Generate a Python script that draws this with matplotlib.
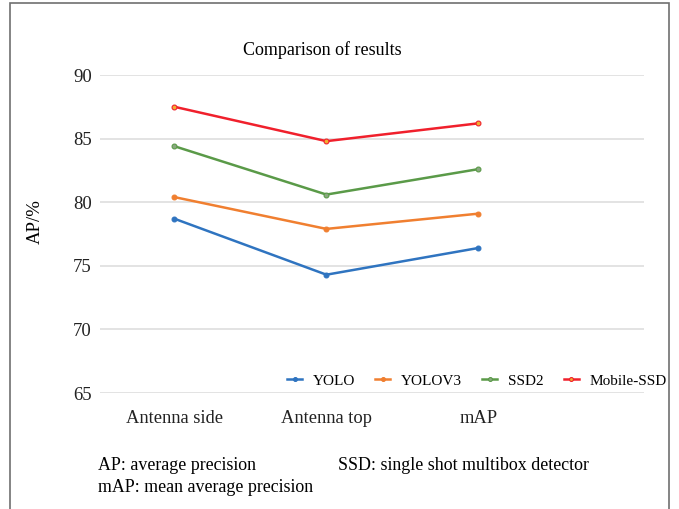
import matplotlib.pyplot as plt
from matplotlib.patches import Rectangle

categories = ["Antenna side", "Antenna top", "mAP"]
yolo = [78.7, 74.3, 76.4]
yolov3 = [80.4, 77.9, 79.1]
ssd2 = [84.4, 80.6, 82.6]
mobile_ssd = [87.5, 84.8, 86.2]

series = [
    ("YOLO", yolo, "#2f74c0", "#2f74c0"),
    ("YOLOV3", yolov3, "#f07f30", "#f07f30"),
    ("SSD2", ssd2, "#5a9a48", "#8aa880"),
    ("Mobile-SSD", mobile_ssd, "#f0202c", "#f0b030"),
]

plt.rcParams["font.family"] = ["Liberation Serif", "DejaVu Serif"]

fig = plt.figure(figsize=(6.79, 5.09), dpi=100)
fig.patch.set_facecolor("white")
fig.add_artist(Rectangle((10 / 679, -0.01), 659 / 679, 1 - 3 / 509 + 0.01,
                         transform=fig.transFigure, fill=False,
                         edgecolor="#707070", lw=1.2))

ax = fig.add_axes([100 / 679, 1 - 393 / 509, 544 / 679, 318 / 509])
x = list(range(len(categories)))
for name, vals, color, mfc in series:
    ax.plot(x, vals, color=color, lw=1.8, marker="o", ms=3.5,
            mfc=mfc, mec=color, mew=0.8, label=name)

ax.set_xlim(-0.49, 3.09)
ax.set_ylim(65, 90)
ax.set_yticks([65, 70, 75, 80, 85, 90])
ax.set_xticks(x)
ax.set_xticklabels(categories)
ax.tick_params(axis="both", length=0, colors="#222222")
ax.tick_params(axis="x", pad=12, labelsize=13.3)
ax.tick_params(axis="y", pad=6, labelsize=13.5)
ax.grid(axis="y", color="#dedede", lw=1.2)
ax.set_axisbelow(True)
for s in ax.spines.values():
    s.set_visible(False)

fig.text(35 / 679, 1 - 222 / 509, "AP/%", rotation=90, ha="center",
         va="center", fontsize=13.5)
fig.text(322 / 679, 1 - 50 / 509, "Comparison of results", ha="center",
         va="center", fontsize=13)

ax.legend(loc="center left", bbox_to_anchor=(287 / 679, 1 - 381 / 509),
          bbox_transform=fig.transFigure, ncol=4, frameon=False,
          fontsize=11, handlelength=1.0, handletextpad=0.7, columnspacing=1.3,
          borderpad=0, borderaxespad=0, markerscale=0.8)

fig.text(98 / 679, 1 - 466 / 509, "AP: average precision", fontsize=12.9, va="center")
fig.text(338 / 679, 1 - 466 / 509, "SSD: single shot multibox detector", fontsize=12.9, va="center")
fig.text(98 / 679, 1 - 488 / 509, "mAP: mean average precision", fontsize=12.9, va="center")

fig.savefig("out.png", dpi=100)
